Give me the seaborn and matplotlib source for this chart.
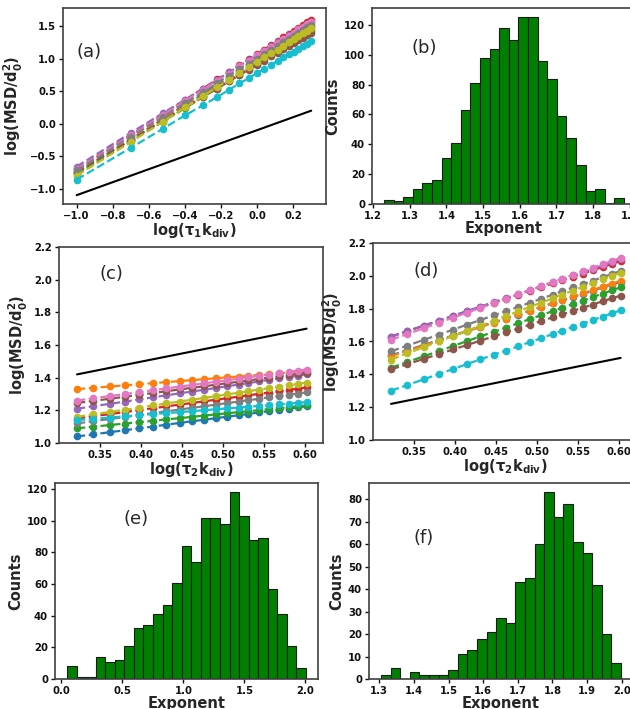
import numpy as np
import pandas as pd
import matplotlib
matplotlib.use("Agg")
import matplotlib.pyplot as plt
import seaborn as sns

sns.set_theme(style="ticks")
plt.rcParams["font.family"] = ["DejaVu Sans"]
plt.rcParams["font.weight"] = "bold"
plt.rcParams["mathtext.default"] = "bf"
plt.rcParams["axes.edgecolor"] = "#404040"
plt.rcParams["axes.linewidth"] = 1.2

# ---------------- data ----------------
colors = sns.color_palette("tab10", 10)

# panel (a)
x_a = [-1.000, -0.699, -0.523, -0.398, -0.301, -0.222, -0.155, -0.097, -0.046, 0.000,
       0.041, 0.079, 0.114, 0.146, 0.176, 0.204, 0.230, 0.255, 0.279, 0.301]
a_blue = [-0.76, -0.24, 0.07, 0.29, 0.45, 0.59, 0.71, 0.81, 0.90, 0.98, 1.05, 1.11, 1.18, 1.23, 1.28, 1.33, 1.38, 1.42, 1.46, 1.50]
a_orange = [-0.75, -0.24, 0.06, 0.27, 0.43, 0.57, 0.68, 0.78, 0.86, 0.94, 1.01, 1.08, 1.13, 1.19, 1.24, 1.29, 1.33, 1.37, 1.41, 1.45]
a_green = [-0.78, -0.27, 0.03, 0.24, 0.41, 0.54, 0.66, 0.75, 0.84, 0.92, 0.99, 1.05, 1.11, 1.17, 1.22, 1.27, 1.31, 1.35, 1.39, 1.43]
a_red = [-0.70, -0.17, 0.14, 0.36, 0.54, 0.68, 0.79, 0.90, 0.99, 1.07, 1.14, 1.21, 1.27, 1.33, 1.38, 1.43, 1.47, 1.52, 1.56, 1.60]
a_purple = [-0.66, -0.14, 0.16, 0.37, 0.54, 0.67, 0.79, 0.89, 0.98, 1.05, 1.12, 1.19, 1.25, 1.30, 1.36, 1.40, 1.45, 1.49, 1.53, 1.57]
a_brown = [-0.74, -0.25, 0.05, 0.25, 0.41, 0.54, 0.65, 0.75, 0.83, 0.91, 0.97, 1.04, 1.09, 1.15, 1.19, 1.24, 1.28, 1.32, 1.36, 1.40]
a_pink = [-0.70, -0.18, 0.13, 0.35, 0.52, 0.66, 0.77, 0.88, 0.97, 1.05, 1.12, 1.18, 1.24, 1.30, 1.35, 1.40, 1.45, 1.49, 1.53, 1.57]
a_gray = [-0.72, -0.20, 0.10, 0.32, 0.48, 0.62, 0.74, 0.84, 0.92, 1.00, 1.07, 1.14, 1.20, 1.25, 1.31, 1.35, 1.40, 1.44, 1.48, 1.52]
a_olive = [-0.80, -0.28, 0.03, 0.25, 0.42, 0.56, 0.67, 0.78, 0.87, 0.95, 1.02, 1.08, 1.14, 1.20, 1.25, 1.30, 1.35, 1.39, 1.43, 1.47]
a_cyan = [-0.86, -0.37, -0.08, 0.13, 0.28, 0.41, 0.52, 0.62, 0.70, 0.78, 0.84, 0.91, 0.96, 1.02, 1.07, 1.11, 1.15, 1.19, 1.23, 1.27]
a_ref_x = [-1.0, 0.301]
a_ref_y = [-1.10, 0.20]

# panels (c) and (d)
x_cd = [0.322, 0.342, 0.362, 0.380, 0.398, 0.415, 0.431, 0.447, 0.462, 0.477,
        0.491, 0.505, 0.519, 0.531, 0.544, 0.556, 0.568, 0.580, 0.591, 0.602]
c_blue = [1.040, 1.053, 1.066, 1.078, 1.090, 1.101, 1.112, 1.123, 1.133, 1.142, 1.152, 1.161, 1.170, 1.178, 1.187, 1.195, 1.203, 1.210, 1.218, 1.225]
c_orange = [1.330, 1.338, 1.346, 1.353, 1.360, 1.367, 1.373, 1.379, 1.385, 1.391, 1.396, 1.402, 1.407, 1.412, 1.417, 1.422, 1.427, 1.431, 1.436, 1.440]
c_green = [1.090, 1.100, 1.110, 1.119, 1.128, 1.136, 1.145, 1.152, 1.160, 1.168, 1.175, 1.182, 1.189, 1.194, 1.201, 1.207, 1.213, 1.219, 1.224, 1.230]
c_red = [1.150, 1.164, 1.177, 1.189, 1.202, 1.213, 1.224, 1.235, 1.245, 1.255, 1.265, 1.274, 1.284, 1.292, 1.301, 1.309, 1.317, 1.325, 1.333, 1.340]
c_purple = [1.210, 1.225, 1.240, 1.253, 1.267, 1.280, 1.292, 1.304, 1.315, 1.326, 1.337, 1.347, 1.358, 1.367, 1.377, 1.386, 1.395, 1.403, 1.412, 1.420]
c_brown = [1.245, 1.258, 1.271, 1.283, 1.295, 1.306, 1.317, 1.328, 1.338, 1.347, 1.357, 1.366, 1.375, 1.383, 1.392, 1.400, 1.408, 1.415, 1.423, 1.430]
c_pink = [1.260, 1.274, 1.287, 1.299, 1.312, 1.323, 1.334, 1.345, 1.355, 1.365, 1.375, 1.384, 1.394, 1.402, 1.411, 1.419, 1.427, 1.435, 1.443, 1.450]
c_gray = [1.120, 1.134, 1.147, 1.159, 1.172, 1.183, 1.194, 1.205, 1.215, 1.225, 1.235, 1.244, 1.254, 1.262, 1.271, 1.279, 1.287, 1.295, 1.303, 1.310]
c_olive = [1.160, 1.175, 1.190, 1.203, 1.217, 1.230, 1.242, 1.254, 1.265, 1.276, 1.287, 1.297, 1.308, 1.317, 1.327, 1.336, 1.345, 1.353, 1.362, 1.370]
c_cyan = [1.140, 1.148, 1.156, 1.163, 1.170, 1.177, 1.183, 1.189, 1.195, 1.201, 1.206, 1.212, 1.217, 1.222, 1.227, 1.232, 1.237, 1.241, 1.246, 1.250]
c_ref_x = [0.322, 0.602]
c_ref_y = [1.42, 1.70]

d_blue = [1.515, 1.547, 1.579, 1.608, 1.637, 1.664, 1.690, 1.716, 1.740, 1.764, 1.787, 1.809, 1.832, 1.851, 1.872, 1.891, 1.910, 1.930, 1.947, 1.965]
d_orange = [1.510, 1.543, 1.576, 1.605, 1.635, 1.663, 1.689, 1.715, 1.740, 1.765, 1.788, 1.811, 1.834, 1.853, 1.875, 1.894, 1.914, 1.934, 1.952, 1.970]
d_green = [1.440, 1.475, 1.510, 1.541, 1.573, 1.603, 1.631, 1.659, 1.685, 1.711, 1.736, 1.760, 1.785, 1.806, 1.829, 1.849, 1.871, 1.891, 1.911, 1.930]
d_red = [1.630, 1.663, 1.696, 1.725, 1.755, 1.783, 1.809, 1.835, 1.860, 1.885, 1.908, 1.931, 1.954, 1.973, 1.995, 2.014, 2.034, 2.054, 2.072, 2.090]
d_purple = [1.630, 1.664, 1.697, 1.727, 1.758, 1.786, 1.813, 1.840, 1.865, 1.890, 1.914, 1.937, 1.961, 1.981, 2.003, 2.023, 2.043, 2.063, 2.082, 2.100]
d_brown = [1.430, 1.462, 1.494, 1.523, 1.552, 1.579, 1.605, 1.631, 1.655, 1.679, 1.702, 1.724, 1.747, 1.766, 1.787, 1.806, 1.825, 1.845, 1.862, 1.880]
d_pink = [1.610, 1.646, 1.681, 1.714, 1.746, 1.776, 1.805, 1.833, 1.860, 1.887, 1.912, 1.937, 1.962, 1.983, 2.006, 2.028, 2.049, 2.071, 2.090, 2.110]
d_gray = [1.540, 1.575, 1.610, 1.641, 1.673, 1.703, 1.731, 1.759, 1.785, 1.811, 1.836, 1.860, 1.885, 1.906, 1.929, 1.949, 1.971, 1.991, 2.011, 2.030]
d_olive = [1.490, 1.528, 1.566, 1.600, 1.634, 1.666, 1.696, 1.727, 1.755, 1.783, 1.810, 1.836, 1.863, 1.886, 1.910, 1.933, 1.956, 1.978, 1.999, 2.020]
d_cyan = [1.300, 1.335, 1.370, 1.401, 1.433, 1.463, 1.491, 1.519, 1.545, 1.571, 1.596, 1.620, 1.645, 1.666, 1.689, 1.709, 1.731, 1.751, 1.771, 1.790]
d_ref_x = [0.322, 0.602]
d_ref_y = [1.22, 1.50]

# histograms (counts per bin)
b_counts = [3, 2, 5, 10, 14, 16, 31, 41, 63, 81, 98, 104, 118, 110, 125, 125, 96, 84, 59, 44, 26, 9, 10, 1, 4]
b_range = (1.230, 1.884)
e_counts = [8, 1, 1, 14, 11, 12, 21, 32, 34, 41, 47, 61, 84, 74, 102, 102, 98, 118, 103, 88, 89, 57, 41, 21, 7]
e_range = (0.045, 2.005)
f_counts = [2, 5, 0, 3, 2, 2, 2, 4, 11, 13, 18, 21, 27, 25, 43, 45, 60, 83, 72, 78, 61, 56, 42, 20, 7]
f_range = (1.305, 1.998)

# ---------------- figure ----------------
W, H = 630, 709
fig = plt.figure(figsize=(W / 100, H / 100), dpi=100)


def ax_px(l, t, r, b):
    return fig.add_axes([l / W, 1 - b / H, (r - l) / W, (b - t) / H])


ax_a = ax_px(63, 8, 326, 204)
ax_b = ax_px(372, 8, 636, 204)
ax_c = ax_px(59, 247, 323, 443)
ax_d = ax_px(373, 243, 637, 440)
ax_e = ax_px(55, 483, 318, 679)
ax_f = ax_px(369, 483, 633, 679)

TICK_FS = 7.3
LABEL_FS = 10.5
PANEL_FS = 13


def line_panel(ax, x, series, ref_x, ref_y):
    for ys, col in zip(series, colors):
        sns.lineplot(x=x, y=ys, ax=ax, color=col, linestyle="--", marker="o",
                     markersize=5.5, markeredgewidth=0, linewidth=1.6)
    sns.lineplot(x=ref_x, y=ref_y, ax=ax, color="black", linewidth=1.5)


line_panel(ax_a, x_a, [a_blue, a_orange, a_green, a_red, a_purple, a_brown, a_pink, a_gray, a_olive, a_cyan],
           a_ref_x, a_ref_y)
line_panel(ax_c, x_cd, [c_blue, c_orange, c_green, c_red, c_purple, c_brown, c_pink, c_gray, c_olive, c_cyan],
           c_ref_x, c_ref_y)
line_panel(ax_d, x_cd, [d_blue, d_orange, d_green, d_red, d_purple, d_brown, d_pink, d_gray, d_olive, d_cyan],
           d_ref_x, d_ref_y)

ax_a.set_xlim(-1.076, 0.383)
ax_a.set_ylim(-1.236, 1.78)
ax_a.set_xticks([-1.0, -0.8, -0.6, -0.4, -0.2, 0.0, 0.2])
ax_a.set_yticks([-1.0, -0.5, 0.0, 0.5, 1.0, 1.5])
for ax in (ax_c, ax_d):
    ax.set_xlim(0.300, 0.622)
    ax.set_ylim(1.0, 2.2)
    ax.set_xticks([0.35, 0.40, 0.45, 0.50, 0.55, 0.60])
    ax.set_yticks([1.0, 1.2, 1.4, 1.6, 1.8, 2.0, 2.2])

ylab = r"$log(MSD/d_0^2)$"
ax_a.set_xlabel(r"$log(\tau_1 k_{div})$", fontsize=LABEL_FS, labelpad=0)
ax_c.set_xlabel(r"$log(\tau_2 k_{div})$", fontsize=LABEL_FS, labelpad=0)
ax_d.set_xlabel(r"$log(\tau_2 k_{div})$", fontsize=LABEL_FS, labelpad=0)
for ax in (ax_a, ax_c, ax_d):
    ax.set_ylabel(ylab, fontsize=LABEL_FS, labelpad=3)


def hist_panel(ax, counts, rng):
    edges = [float(v) for v in np.linspace(rng[0], rng[1], len(counts) + 1)]
    centers = [(edges[i] + edges[i + 1]) / 2 for i in range(len(counts))]
    df = pd.DataFrame({"Exponent": centers, "count": counts})
    sns.histplot(data=df, x="Exponent", weights="count", bins=edges, ax=ax,
                 color="green", edgecolor="#1a1a1a", linewidth=0.8, alpha=1.0)
    ax.set_xlabel("Exponent", fontsize=LABEL_FS, fontweight="bold", labelpad=0)
    ax.set_ylabel("Counts", fontsize=LABEL_FS, fontweight="bold", labelpad=3)


hist_panel(ax_b, b_counts, b_range)
hist_panel(ax_e, e_counts, e_range)
hist_panel(ax_f, f_counts, f_range)
ax_b.set_xticks([1.2, 1.3, 1.4, 1.5, 1.6, 1.7, 1.8, 1.9])
ax_b.set_yticks([0, 20, 40, 60, 80, 100, 120])
ax_e.set_xticks([0.0, 0.5, 1.0, 1.5, 2.0])
ax_e.set_yticks([0, 20, 40, 60, 80, 100, 120])
ax_f.set_xticks([1.3, 1.4, 1.5, 1.6, 1.7, 1.8, 1.9, 2.0])
ax_f.set_yticks([0, 10, 20, 30, 40, 50, 60, 70, 80])

for ax in (ax_a, ax_b, ax_c, ax_d, ax_e, ax_f):
    ax.tick_params(labelsize=TICK_FS, length=3, width=1, pad=2, colors="#111111")
    for sp in ax.spines.values():
        sp.set_visible(True)
        sp.set_color("#404040")

panels = [(ax_a, "(a)", 0.053, 0.776), (ax_b, "(b)", 0.148, 0.796), (ax_c, "(c)", 0.155, 0.862),
          (ax_d, "(d)", 0.155, 0.858), (ax_e, "(e)", 0.262, 0.816), (ax_f, "(f)", 0.167, 0.719)]
for ax, lab, x, y in panels:
    ax.text(x, y, lab, transform=ax.transAxes, fontsize=PANEL_FS, fontweight="normal",
            ha="left", va="center")

fig.savefig("out.png", dpi=100)
